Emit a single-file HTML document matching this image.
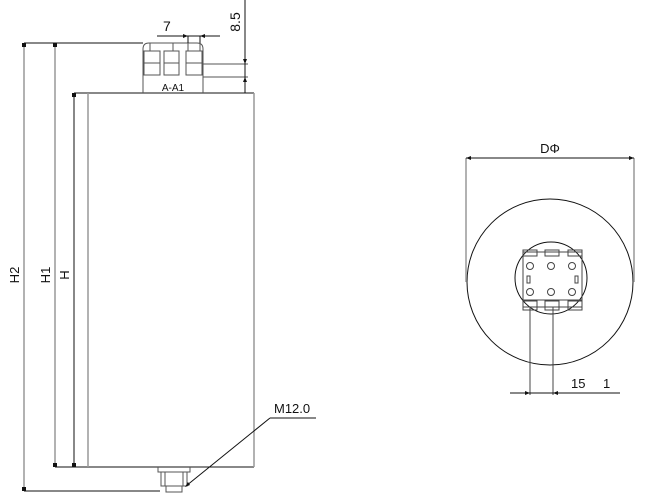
<!DOCTYPE html>
<html><head><style>html,body{margin:0;padding:0;background:#fff}svg{display:block}text{font-family:"Liberation Sans",sans-serif;fill:#111}</style></head>
<body>
<svg width="656" height="503" viewBox="0 0 656 503" xmlns="http://www.w3.org/2000/svg">
<defs><marker id="a" markerWidth="6" markerHeight="6" refX="5" refY="3" orient="auto"><path d="M0,1 L6,3 L0,5z" fill="#111"/></marker></defs>
<g stroke="#111" stroke-width="1" fill="none">
<!-- dimension lines left -->
<line x1="24" y1="43" x2="143" y2="43"/>
<line x1="24" y1="491" x2="160" y2="491"/>
<line x1="55" y1="467" x2="254" y2="467"/>
<line x1="74" y1="93" x2="254" y2="93"/>
<line x1="74" y1="93" x2="74" y2="467"/>
</g>
<g stroke="#999" stroke-width="1.5" fill="none">
<line x1="24" y1="43" x2="24" y2="491"/>
<line x1="55" y1="43" x2="55" y2="467"/>
<line x1="88" y1="93" x2="88" y2="467"/>
<line x1="254" y1="93" x2="254" y2="467"/>
</g>
<g fill="#111"><rect x="22" y="43" width="4" height="4"/><rect x="22" y="487" width="4" height="4"/><rect x="53" y="43" width="4" height="4"/><rect x="53" y="463" width="4" height="4"/><rect x="72" y="93" width="4" height="4"/><rect x="72" y="463" width="4" height="4"/></g>
<text transform="translate(19,275) rotate(-90)" font-size="13" text-anchor="middle">H2</text>
<text transform="translate(50,275) rotate(-90)" font-size="13" text-anchor="middle">H1</text>
<text transform="translate(69,275) rotate(-90)" font-size="13" text-anchor="middle">H</text>
<!-- terminal block -->
<g stroke="#555" stroke-width="1" fill="none">
<path d="M143,93 V49 Q143,43 149,43 H197 Q203,43 203,49 V93"/>
<line x1="150" y1="43" x2="150" y2="51"/><line x1="173" y1="43" x2="173" y2="51"/><line x1="188" y1="43" x2="188" y2="51"/><line x1="200" y1="43" x2="200" y2="51"/>
<rect x="144" y="51" width="16" height="24"/><line x1="144" y1="63" x2="160" y2="63"/>
<rect x="164" y="51" width="15" height="24"/><line x1="164" y1="63" x2="179" y2="63"/>
<rect x="186" y="51" width="16" height="24"/><line x1="186" y1="63" x2="202" y2="63"/>
<line x1="203" y1="64" x2="248" y2="64"/><line x1="203" y1="77" x2="248" y2="77"/>
</g>
<text x="173" y="91" font-size="10" text-anchor="middle">A-A1</text>
<g stroke="#111" stroke-width="1"><line x1="157" y1="36" x2="220" y2="36"/><line x1="245" y1="0" x2="245" y2="93"/>
<line x1="188" y1="36" x2="188" y2="43"/><line x1="200" y1="36" x2="200" y2="43"/></g>
<path d="M188,36 l-5,-2 v4z M200,36 l5,-2 v4z M245,64 l-2,-5 h4z M245,77 l-2,5 h4z" fill="#111"/>
<text x="163" y="31" font-size="14">7</text>
<text transform="translate(240,22) rotate(-90)" font-size="14" text-anchor="middle">8.5</text>
<!-- bolt -->
<g stroke="#555" stroke-width="1" fill="none">
<path d="M158,467 V472 H190 V467"/><path d="M161,472 V486 H187 V472"/><line x1="165" y1="472" x2="165" y2="486"/><line x1="183" y1="472" x2="183" y2="486"/>
<rect x="166" y="486" width="16" height="6"/>
</g>
<g stroke="#111"><line x1="186" y1="486" x2="270" y2="418"/><line x1="270" y1="418" x2="316" y2="418"/></g>
<path d="M185,487 l3,-5 l2,3z" fill="#111"/>
<text x="274" y="413" font-size="13">M12.0</text>
<!-- right view -->
<circle cx="550" cy="282" r="83" stroke="#111" fill="none"/>
<circle cx="551" cy="278" r="36" stroke="#111" fill="none"/>
<g stroke="#999" stroke-width="1.5"><line x1="466" y1="158" x2="466" y2="282"/><line x1="634" y1="158" x2="634" y2="282"/></g>
<line x1="466" y1="158" x2="634" y2="158" stroke="#111"/>
<path d="M634,158 l-5,-2 v4z M466,158 l5,-2 v4z" fill="#111"/>
<text x="550" y="153" font-size="13" text-anchor="middle">DΦ</text>
<g stroke="#444" fill="none">
<rect x="523" y="252" width="59" height="55"/>
<rect x="523" y="250" width="14" height="6"/><rect x="545" y="250" width="14" height="6"/><rect x="568" y="250" width="14" height="6"/>
<rect x="523" y="301" width="14" height="9"/><rect x="545" y="301" width="14" height="9"/><rect x="568" y="301" width="14" height="9"/>
<line x1="523" y1="300" x2="582" y2="300"/>
<circle cx="530" cy="266" r="3.5"/><circle cx="551" cy="266" r="3.5"/><circle cx="572" cy="266" r="3.5"/>
<circle cx="530" cy="292" r="3.5"/><circle cx="551" cy="292" r="3.5"/><circle cx="572" cy="292" r="3.5"/>
<rect x="527" y="276" width="3" height="7"/><rect x="575" y="276" width="3" height="7"/>
<line x1="530" y1="307" x2="530" y2="395"/><line x1="553" y1="307" x2="553" y2="395"/>
</g>
<line x1="510" y1="393" x2="620" y2="393" stroke="#111"/>
<path d="M530,393 l-5,-2 v4z M553,393 l5,-2 v4z" fill="#111"/>
<text x="571" y="388" font-size="13">15</text><text x="603" y="388" font-size="13">1</text>
</svg>
</body></html>
